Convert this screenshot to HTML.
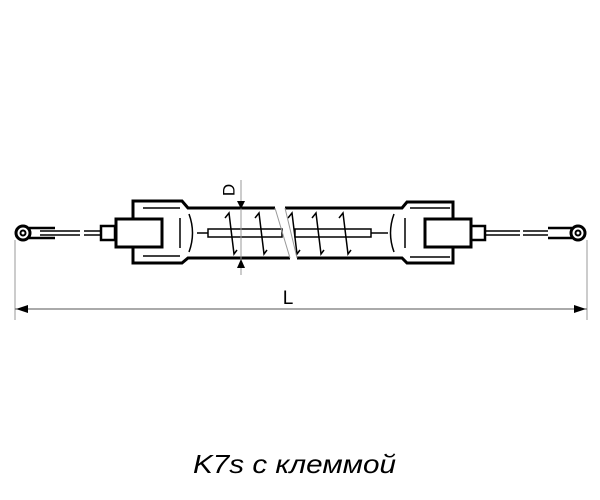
<!DOCTYPE html>
<html><head><meta charset="utf-8"><style>html,body{margin:0;padding:0;background:#fff}svg{display:block}</style></head>
<body>
<svg width="600" height="500" viewBox="0 0 600 500" xmlns="http://www.w3.org/2000/svg">
<g fill="none" stroke="#000" stroke-width="3" stroke-linejoin="miter">
  <!-- left eyelet -->
  <path d="M29 228 L55 228 M29 238 L55 238" stroke-width="2.5"/>
  <circle cx="23" cy="233" r="7" fill="#fff"/>
  <circle cx="23" cy="233" r="2.5" stroke-width="2"/>
  <path d="M40 231 L80 231 M40 235 L80 235 M84 231 L100 231 M84 235 L100 235" stroke-width="1.5"/>
  <rect x="101" y="226" width="14" height="14" stroke-width="2.5"/>
  <rect x="116" y="219" width="46" height="28"/>
  <!-- left cap -->
  <path d="M133 219 L133 201 L182 201 L188 208 L275 208"/>
  <path d="M133 247 L133 263 L182 263 L188 258 L290 258"/>
  <path d="M143 208 L180 208 M143 256 L180 256" stroke-width="1.5"/>
  <path d="M180 218 L180 248" stroke-width="1.5"/>
  <path d="M189 214 Q196 233 189 252" stroke-width="1.5"/>
  <!-- right cap -->
  <path d="M285 208 L402 208 L407 202 L453 202 L453 219"/>
  <path d="M297 258 L402 258 L407 263 L453 263 L453 247"/>
  <rect x="425" y="219" width="46" height="28"/>
  <path d="M410 208 L450 208 M410 257 L450 257" stroke-width="1.5"/>
  <path d="M405 218 L405 248" stroke-width="1.5"/>
  <path d="M394 214 Q387 233 394 252" stroke-width="1.5"/>
  <rect x="471" y="226" width="14" height="14" stroke-width="2.5"/>
  <path d="M486 231 L520 231 M486 235 L520 235 M523 231 L548 231 M523 235 L548 235" stroke-width="1.5"/>
  <path d="M548 228 L572 228 M548 238 L572 238" stroke-width="2.5"/>
  <circle cx="578" cy="233" r="7" fill="#fff"/>
  <circle cx="578" cy="233" r="2.5" stroke-width="2"/>
</g>
<g fill="none" stroke="#000" stroke-width="1.5">
  <path d="M197 233 L208 233 M371 233 L388 233"/>
  <rect x="208" y="229" width="74" height="8"/>
  <rect x="295" y="229" width="76" height="8"/>
  <path d="M225 218 L229 213 L234 254 L237 250"/>
  <path d="M255 218 L259 213 L264 254 L267 250"/>
  <path d="M288 218 L292 213 L297 254 L300 250"/>
  <path d="M312 218 L316 213 L321 254 L324 250"/>
  <path d="M339 218 L343 213 L348 254 L351 250"/>
</g>
<g stroke="#999" stroke-width="1" fill="none">
  <path d="M275 208 L290 258 M285 208 L297 258"/>
  <path d="M241 180 L241 275"/>
  <path d="M15 240 L15 320 M587 240 L587 320"/>
  <path d="M15 309 L587 309" stroke="#555"/>
</g>
<g fill="#000">
  <path d="M237 201 L245 201 L241 209 Z"/>
  <path d="M237 268 L245 268 L241 259 Z"/>
  <path d="M16 309 L28 305 L28 313 Z"/>
  <path d="M586 309 L574 305 L574 313 Z"/>
</g>
<text x="230" y="190" transform="rotate(-90 230 190)" font-family="Liberation Sans, sans-serif" font-size="17" text-anchor="middle" dominant-baseline="middle">D</text>
<text x="288" y="304" font-family="Liberation Sans, sans-serif" font-size="19" text-anchor="middle">L</text>
<text x="193" y="473" font-family="Liberation Sans, sans-serif" font-style="italic" font-size="26" textLength="203" lengthAdjust="spacingAndGlyphs">K7s с клеммой</text>
</svg>
</body></html>
